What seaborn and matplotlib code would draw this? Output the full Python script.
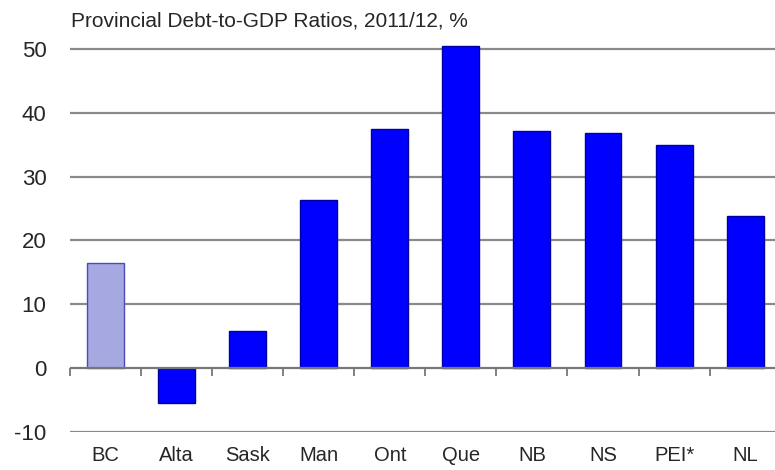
import matplotlib
matplotlib.use("Agg")
import matplotlib.pyplot as plt
import seaborn as sns
import pandas as pd
import numpy as np

provinces = ['BC', 'Alta', 'Sask', 'Man', 'Ont', 'Que', 'NB', 'NS', 'PEI*', 'NL']
debt_to_gdp = [16.5, -5.5, 5.8, 26.3, 37.5, 50.5, 37.1, 36.8, 35.0, 23.8]
y_ticks = [-10, 0, 10, 20, 30, 40, 50]
title = 'Provincial Debt-to-GDP Ratios, 2011/12, %'

fill_colors = ['#a6a8e2'] + ['#0000ff'] * (len(provinces) - 1)
edge_colors = ['#4c4cb4'] + ['#0000a0'] * (len(provinces) - 1)

df = pd.DataFrame({'Province': provinces, 'Ratio': debt_to_gdp})

sns.set_style('white')
plt.rcParams['font.family'] = ['Liberation Sans', 'DejaVu Sans']

fig = plt.figure(figsize=(7.75, 4.70), dpi=100)
ax = fig.add_axes([0.0903, 0.0809, 0.917, 0.8285])

sns.barplot(data=df, x='Province', y='Ratio', hue='Province', palette=fill_colors,
            width=0.52, legend=False, ax=ax, saturation=1)
for bar, ec in zip(ax.patches, edge_colors):
    bar.set_edgecolor(ec)
    bar.set_linewidth(1.0)

ax.set_xlim(-0.5, len(provinces) - 0.5)
ax.set_ylim(-10, 51)
ax.set_yticks(y_ticks)
ax.set_yticklabels([str(t) for t in y_ticks], fontsize=16)
for t in y_ticks:
    if t != 0:
        ax.axhline(t, color='#8a8a8a', lw=1.6, zorder=0)
ax.axhline(0, color='#777777', lw=1.6, zorder=3)

ax.tick_params(axis='y', length=0, pad=17)
ax.tick_params(axis='x', length=0, pad=10, labelsize=14.5)
ax.set_xlabel('')
ax.set_ylabel('')
for s in ax.spines.values():
    s.set_visible(False)

# category separator ticks on the zero line
sec = ax.secondary_xaxis(0, transform=ax.transData)
sec.set_xticks(np.arange(len(provinces) + 1) - 0.5)
sec.set_xticklabels([])
sec.tick_params(length=6, width=1.3, color='#777777', direction='out')
sec.spines['bottom'].set_visible(False)

fig.text(0.092, 0.955, title, fontsize=15, ha='left', va='center')

fig.savefig('out.png', dpi=100)
